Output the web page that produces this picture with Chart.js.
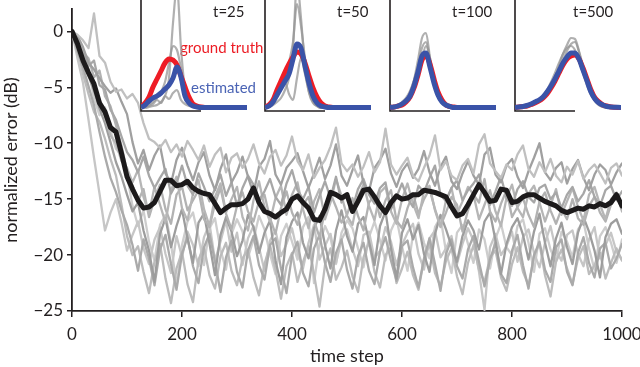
<!DOCTYPE html>
<html><head><meta charset="utf-8">
<script src="https://cdn.jsdelivr.net/npm/chart.js@4.4.0/dist/chart.umd.min.js"></script>
<style>
html,body{margin:0;padding:0;background:#fff;}
#wrap{position:relative;width:640px;height:367px;overflow:hidden;background:#fff;}
#wrap canvas{position:absolute;top:0;}
</style></head><body>
<div id="wrap">
<canvas id="main" width="640" height="367" style="left:0"></canvas>
<canvas id="in1" width="114" height="114"></canvas>
<canvas id="in2" width="114" height="114"></canvas>
<canvas id="in3" width="114" height="114"></canvas>
<canvas id="in4" width="114" height="114"></canvas>
</div>
<script>
// ---- main chart data ----
const timeSteps = [0,10,20,30,40,50,60,70,80,90,100,110,120,130,140,150,160,170,180,190,200,210,220,230,240,250,260,270,280,290,300,310,320,330,340,350,360,370,380,390,400,410,420,430,440,450,460,470,480,490,500,510,520,530,540,550,560,570,580,590,600,610,620,630,640,650,660,670,680,690,700,710,720,730,740,750,760,770,780,790,800,810,820,830,840,850,860,870,880,890,900,910,920,930,940,950,960,970,980,990,1000];
const xTicks = [0,200,400,600,800,1000];
const yTicks = [0,-5,-10,-15,-20,-25];

const meanError = [0,-1.1,-2.6,-3.7,-4.7,-6.4,-7.2,-8.6,-9.0,-10.9,-13.0,
-14.1,-15.1,-15.8,-15.7,-15.3,-14.3,-13.3,-13.3,-13.8,-13.7,
-13.4,-14.0,-14.3,-14.5,-14.6,-15.4,-16.2,-15.8,-15.5,-15.5,
-15.4,-15.0,-14.0,-15.3,-16.1,-16.3,-16.6,-16.2,-15.9,-15.0,
-14.7,-15.3,-15.8,-16.8,-16.9,-15.9,-14.4,-14.6,-14.9,-14.6,
-16.1,-15.2,-14.2,-14.1,-14.8,-15.6,-16.2,-15.3,-14.7,-15.0,
-14.9,-14.6,-14.6,-14.2,-14.3,-14.4,-14.6,-14.8,-15.7,-16.5,
-16.3,-15.5,-14.6,-13.7,-14.4,-15.2,-15.1,-14.1,-14.2,-15.3,
-15.2,-14.8,-14.6,-14.6,-14.9,-15.2,-15.4,-15.6,-16.0,-16.2,
-16.0,-15.8,-15.9,-15.6,-15.7,-15.4,-15.6,-15.3,-14.6,-15.6];

const run1 = [0,-0.3,-0.8,-1.5,1.6,-2.2,-2.8,-4.5,-5.4,-5.2,-6.0,
-5.6,-6.4,-8.2,-9.6,-9.9,-10.4,-9.7,-10.8,-10.1,-11.2,
-9.8,-10.6,-11.5,-10.2,-12.1,-11.0,-10.4,-12.6,-11.3,-10.9,
-12.2,-11.4,-10.1,-11.8,-12.7,-11.2,-10.6,-12.0,-11.1,-9.4,
-11.6,-12.4,-11.0,-13.1,-12.2,-11.5,-10.3,-8.6,-11.8,-12.5,
-11.9,-13.0,-12.1,-10.8,-12.6,-11.7,-8.7,-11.9,-12.8,-12.0,
-11.3,-12.9,-13.4,-12.2,-11.1,-9.3,-12.4,-11.6,-12.9,-13.3,
-12.0,-11.4,-12.7,-10.1,-9.2,-11.8,-12.5,-13.1,-11.9,-12.4,
-11.0,-10.2,-12.3,-13.0,-11.7,-12.6,-11.4,-12.9,-13.5,-12.1,
-12.8,-11.6,-13.2,-12.4,-11.9,-12.7,-13.6,-12.2,-11.8,-12.9];
const run2 = [0,-1.2,-2.0,-3.1,-2.6,-4.8,-5.2,-7.0,-7.9,-9.4,-10.8,
-11.5,-12.6,-11.2,-12.9,-14.0,-13.1,-12.3,-14.5,-13.6,-12.0,
-13.8,-14.6,-12.7,-13.9,-15.2,-14.1,-12.8,-14.7,-13.5,-15.6,
-14.0,-12.9,-13.7,-15.1,-14.3,-13.2,-14.8,-15.5,-13.6,-12.4,
-14.2,-15.0,-13.9,-16.2,-14.7,-13.4,-14.9,-13.0,-15.3,-14.5,
-15.8,-14.1,-13.2,-14.6,-15.4,-14.0,-13.5,-15.9,-14.8,-13.6,
-14.9,-15.7,-13.8,-14.4,-13.1,-12.0,-14.6,-15.2,-14.0,-13.3,
-15.1,-14.2,-13.6,-12.8,-14.7,-15.5,-14.3,-13.0,-14.9,-15.6,
-14.1,-13.4,-14.8,-15.3,-14.0,-13.7,-15.0,-14.4,-15.8,-14.6,
-13.9,-15.2,-14.5,-13.3,-14.8,-15.6,-14.2,-13.8,-15.1,-14.3];
const run3 = [0,-2.4,-4.6,-7.9,-11.3,-14.5,-17.8,-16.2,-15.0,-17.1,-19.6,
-18.2,-17.0,-19.4,-20.8,-18.6,-17.5,-19.9,-21.6,-18.3,-20.2,
-17.9,-19.1,-21.0,-18.4,-17.2,-20.5,-18.8,-16.9,-19.7,-18.0,
-20.9,-18.5,-17.4,-19.3,-21.4,-18.7,-17.8,-20.1,-19.0,-17.6,
-19.8,-21.2,-18.9,-17.3,-20.4,-19.2,-18.1,-20.7,-18.6,-17.7,
-19.5,-21.0,-18.2,-17.9,-20.3,-19.6,-17.5,-18.8,-20.9,-19.1,
-18.0,-17.2,-19.9,-21.3,-18.5,-17.8,-20.2,-19.4,-18.3,-20.8,
-19.0,-17.6,-18.7,-21.5,-24.9,-19.3,-18.1,-20.0,-19.2,-17.9,
-20.6,-18.4,-17.7,-19.8,-21.1,-18.9,-17.4,-19.6,-20.5,-18.2,
-17.8,-19.9,-21.0,-18.6,-17.5,-20.3,-19.1,-18.0,-19.7,-20.4];
const run4 = [0,-0.8,-2.9,-4.0,-5.3,-6.9,-8.2,-9.9,-11.7,-13.0,-14.6,
-16.1,-15.3,-17.8,-19.6,-22.4,-18.1,-16.7,-19.3,-17.4,-15.9,
-18.5,-20.7,-17.1,-16.3,-19.0,-21.8,-18.2,-16.6,-17.9,-20.1,
-18.7,-16.4,-17.5,-19.8,-18.0,-16.9,-20.5,-22.6,-18.4,-17.0,
-16.2,-18.9,-20.3,-17.6,-16.5,-19.1,-21.2,-17.8,-16.0,-18.3,
-19.7,-17.2,-16.6,-18.8,-20.9,-17.4,-16.1,-19.4,-22.1,-18.0,
-16.8,-18.6,-17.3,-19.9,-21.5,-18.1,-16.4,-17.7,-19.2,-20.6,
-18.3,-16.9,-17.8,-19.5,-17.0,-16.2,-18.7,-21.7,-19.0,-17.5,
-16.7,-18.2,-20.4,-17.9,-16.3,-18.9,-21.0,-18.5,-17.1,-19.3,
-20.8,-18.0,-16.6,-17.9,-19.6,-22.0,-18.4,-17.2,-16.8,-18.1];
const run5 = [0,-1.5,-3.8,-5.6,-7.2,-8.1,-9.6,-11.4,-12.9,-15.5,-18.3,
-20.0,-19.2,-21.5,-23.4,-20.6,-19.0,-22.1,-24.3,-21.2,-19.7,
-22.6,-24.2,-20.4,-19.3,-21.8,-23.0,-20.1,-18.9,-21.4,-22.7,
-20.3,-19.5,-22.0,-23.6,-20.8,-19.1,-21.3,-23.9,-21.0,-19.8,
-22.4,-20.6,-19.2,-21.7,-24.6,-20.9,-19.4,-22.2,-21.1,-19.6,
-21.9,-23.3,-20.2,-18.8,-21.5,-22.9,-20.0,-19.3,-22.5,-21.2,
-19.7,-21.8,-23.1,-20.4,-19.0,-21.6,-22.8,-20.5,-19.4,-21.9,
-23.5,-20.7,-19.1,-21.3,-22.4,-20.2,-19.6,-22.0,-23.2,-20.8,
-19.3,-21.5,-22.7,-20.1,-19.0,-21.8,-23.7,-20.6,-19.5,-21.2,
-22.6,-20.3,-19.2,-21.7,-20.9,-19.8,-22.1,-20.7,-19.4,-20.5];
const run6 = [0,-0.6,-1.9,-2.4,-4.1,-3.5,-5.8,-6.7,-8.4,-10.2,-12.5,
-13.8,-15.2,-14.1,-16.6,-15.0,-13.7,-15.9,-17.2,-14.6,-13.9,
-16.0,-15.1,-14.2,-16.8,-17.5,-15.4,-14.0,-16.3,-17.7,-15.6,
-14.4,-16.1,-17.0,-15.2,-14.6,-16.7,-18.1,-15.8,-14.3,-16.2,
-17.3,-15.5,-14.8,-16.9,-18.4,-16.0,-14.5,-15.7,-17.1,-16.4,
-14.9,-16.5,-17.8,-15.3,-14.7,-16.6,-15.1,-14.2,-16.9,-17.6,
-15.8,-14.5,-16.3,-15.0,-14.1,-15.9,-17.4,-16.2,-14.8,-15.5,
-17.9,-16.0,-14.6,-15.3,-13.2,-16.1,-17.0,-15.4,-14.2,-16.6,
-15.7,-14.9,-16.4,-17.5,-15.2,-14.4,-16.0,-17.2,-15.9,-16.8,
-15.0,-16.7,-17.3,-15.6,-14.8,-16.2,-17.0,-15.5,-14.7,-15.9];
const run7 = [0,-1.0,-1.8,-3.3,-6.0,-7.5,-6.8,-8.9,-10.5,-11.1,-12.8,
-15.6,-17.4,-16.0,-18.8,-20.5,-17.3,-16.4,-18.9,-22.8,-19.1,
-17.0,-16.2,-18.4,-20.9,-17.6,-16.7,-19.5,-21.3,-18.1,-16.8,
-17.9,-20.2,-18.6,-16.5,-17.7,-19.9,-21.7,-18.3,-17.2,-18.8,
-20.4,-17.5,-16.6,-22.5,-19.0,-17.4,-18.5,-20.8,-18.0,-16.9,
-17.6,-19.4,-21.1,-18.4,-17.0,-18.7,-20.5,-17.8,-16.7,-19.2,
-21.4,-18.2,-17.1,-18.9,-20.3,-17.5,-16.6,-19.7,-21.6,-18.0,
-17.3,-19.0,-20.7,-17.7,-18.6,-21.2,-18.5,-17.2,-19.3,-20.0,
-17.4,-16.8,-18.9,-21.5,-18.1,-17.6,-19.5,-20.6,-17.9,-18.8,
-20.2,-17.7,-17.0,-19.4,-21.3,-18.3,-17.5,-18.9,-20.7,-18.6];
const run8 = [0,-0.4,-1.4,-2.8,-3.4,-4.2,-4.9,-5.5,-5.1,-6.3,-7.4,
-9.9,-11.8,-10.6,-12.4,-11.1,-10.2,-12.7,-13.6,-11.5,-10.4,
-12.0,-13.3,-11.7,-10.8,-12.9,-14.2,-12.3,-11.0,-13.5,-12.6,
-11.2,-13.0,-14.5,-12.1,-11.4,-9.8,-12.8,-13.7,-12.2,-11.6,
-10.9,-12.5,-14.0,-12.7,-11.3,-13.2,-12.0,-10.1,-12.9,-13.8,
-12.4,-11.1,-13.6,-14.3,-12.2,-11.5,-10.5,-12.7,-13.9,-12.5,
-11.8,-13.1,-12.3,-10.7,-12.6,-13.8,-12.1,-11.2,-13.4,-14.1,
-12.7,-11.6,-12.9,-13.7,-11.0,-10.4,-12.8,-13.5,-12.0,-11.4,
-13.0,-14.0,-12.5,-11.3,-10.0,-12.6,-13.3,-12.2,-11.7,-13.6,
-12.3,-11.5,-13.1,-14.2,-12.8,-11.9,-12.4,-13.7,-12.6,-11.8];
const run9 = [0,-0.9,-2.2,-3.6,-5.0,-6.1,-7.7,-9.3,-10.0,-11.6,-12.2,
-13.5,-12.4,-14.8,-16.3,-13.9,-15.5,-17.1,-14.2,-13.0,-15.8,
-16.9,-14.5,-13.3,-15.9,-17.4,-14.8,-13.6,-16.2,-15.0,-13.9,
-16.6,-17.8,-15.1,-13.4,-15.7,-17.0,-14.9,-13.8,-16.4,-14.6,
-13.5,-15.9,-17.6,-15.2,-14.1,-16.8,-15.3,-13.2,-14.7,-16.5,
-17.3,-14.8,-13.7,-15.6,-16.9,-14.4,-13.9,-16.1,-17.2,-15.0,
-13.6,-15.4,-16.7,-14.3,-13.8,-16.0,-17.5,-15.1,-14.0,-16.3,
-15.2,-13.9,-14.6,-16.8,-15.5,-14.2,-16.1,-17.4,-14.9,-13.7,
-15.8,-16.6,-14.5,-13.8,-15.3,-17.0,-15.6,-14.1,-16.4,-15.2,
-14.0,-15.7,-16.9,-14.6,-13.9,-15.5,-16.8,-15.0,-14.4,-16.1];
const run10 = [0,-1.8,-3.2,-4.9,-6.6,-9.0,-11.2,-13.1,-14.4,-16.0,-17.3,
-19.1,-21.4,-18.6,-20.3,-22.7,-19.5,-18.2,-20.8,-23.1,-19.9,
-18.4,-21.0,-22.5,-19.3,-18.1,-20.6,-23.3,-20.2,-18.7,-21.5,
-22.9,-19.6,-18.3,-20.9,-22.2,-19.1,-18.5,-21.2,-23.4,-20.0,
-18.8,-21.6,-22.8,-19.4,-18.2,-20.7,-22.4,-19.8,-18.6,-21.3,
-23.0,-20.1,-18.9,-21.4,-22.6,-19.7,-18.4,-20.5,-22.3,-19.2,
-18.7,-21.1,-22.9,-20.3,-18.5,-20.8,-23.2,-19.9,-18.6,-21.0,
-22.1,-19.5,-18.3,-20.6,-22.8,-20.4,-18.9,-21.7,-22.5,-19.6,
-18.2,-20.9,-23.0,-20.0,-18.8,-21.3,-22.4,-19.3,-18.6,-21.5,
-22.7,-19.8,-18.4,-20.7,-22.0,-19.4,-18.9,-21.2,-20.3,-19.0];

// ---- inset data (density curves) ----
const insetLabels = ['t=25','t=50','t=100','t=500'];
const insetGrid = [0,4,8,12,16,20,24,28,32,36,40,44,48,52,56,60,64,68,72,76,80,84,88,92,96,106];

const truth25 = [1,5,11,21,29,37,45,49,48,43,32,21,11,4,2,1,0.5,0.5,0.5,0.5,0.5,0.5,0.5,0.5,0.5,0.5];
const est25   = [0.5,3,7,10,12,15,19,23,30,41,31,12,5,2,1,0.5,0.5,0.5,0.5,0.5,0.5,0.5,0.5,0.5,0.5,0.5];
const samp25a = [0,0,1,2,3,6,12,30,85,120,60,18,5,2,0,0,0,0,0,0,0,0,0,0,0,0];
const samp25b = [0,1,3,6,10,16,26,45,62,58,40,20,8,3,1,0,0,0,0,0,0,0,0,0,0,0];
const samp25c = [0,1,2,4,8,5,12,9,15,18,8,4,2,1,0,0,0,0,0,0,0,0,0,0,0,0];

const truth50 = [1,3,8,18,27,36,44,51,56,54,45,32,20,11,5,2,1,0.5,0.5,0.5,0.5,0.5,0.5,0.5,0.5,0.5];
const est50   = [0.5,2,6,13,20,27,34,49,64,60,42,25,12,5,2,1,0.5,0.5,0.5,0.5,0.5,0.5,0.5,0.5,0.5,0.5];
const samp50a = [0,1,3,6,10,18,30,60,125,90,40,15,5,2,0,0,0,0,0,0,0,0,0,0,0,0];
const samp50b = [0,2,6,14,24,34,46,66,104,82,50,24,9,3,1,0,0,0,0,0,0,0,0,0,0,0];
const samp50c = [0,1,5,12,20,26,14,8,30,50,34,16,6,2,0,0,0,0,0,0,0,0,0,0,0,0];

const truth100 = [0.5,1,2,3,6,11,20,33,48,52,44,29,16,8,3,1.5,1,0.5,0.5,0.5,0.5,0.5,0.5,0.5,0.5,0.5];
const est100   = [0.5,1,2,4,7,12,22,36,52,55,41,25,13,6,3,1.5,0.5,0.5,0.5,0.5,0.5,0.5,0.5,0.5,0.5,0.5];
const samp100a = [0,1,2,4,8,15,28,48,70,75,50,26,12,5,2,1,0,0,0,0,0,0,0,0,0,0];
const samp100b = [0,1,3,6,10,17,28,42,60,66,48,27,12,5,2,0,0,0,0,0,0,0,0,0,0,0];
const samp100c = [0,1,2,4,8,14,25,38,50,62,50,30,14,6,2,0,0,0,0,0,0,0,0,0,0,0];

const truth500 = [0.5,1,1.5,2,3.5,5,7,10,14,20,27,35,43,49,52,53,49,40,29,18,10,6,3,2,1,0.5];
const est500   = [0.5,1,1.5,2.5,4,6,8,11,16,22,29,37,45,51,55,55,49,38,27,16,9,5,3,1.5,1,0.5];
const samp500a = [0,0,1,2,3,5,7,10,16,23,31,42,54,63,70,69,57,42,28,16,8,4,2,1,0,0];
const samp500b = [0,0,1,2,3,5,8,12,18,26,35,45,54,60,62,58,48,35,23,13,7,3,1,0,0,0];
const samp500c = [0,0,1,1,2,4,6,9,14,20,28,38,48,57,64,66,56,40,26,15,7,3,1,0,0,0];

// ---- build main chart ----
const toXY = (xs, ys) => ys.map((v, i) => ({x: xs[i], y: v}));
// Chart.js paints dataset 0 on top, so the mean goes first
const grayRuns = [
  {d: run1, c: '#c0c0c0'}, {d: run8, c: '#a0a0a0'}, {d: run2, c: '#a7a7a7'},
  {d: run9, c: '#b6b6b6'}, {d: run6, c: '#b2b2b2'}, {d: run4, c: '#9d9d9d'},
  {d: run10, c: '#aaaaaa'}, {d: run5, c: '#bcbcbc'}, {d: run3, c: '#c6c6c6'},
  {d: run7, c: '#cdcdcd'}
];
const mainSets = [{data: toXY(timeSteps, meanError), borderColor: '#1c1a1b', borderWidth: 5}];
grayRuns.forEach(r => mainSets.push({data: toXY(timeSteps, r.d), borderColor: r.c, borderWidth: 2.3}));

const FONT = 'Lato, "Open Sans", sans-serif';
const INK = '#231f20';

const annot = {
  id: 'annot',
  afterDraw(chart) {
    const ctx = chart.ctx;
    ctx.save();
    ctx.textBaseline = 'alphabetic';
    ctx.textAlign = 'left';
    ctx.font = '15px ' + FONT;
    ctx.fillStyle = INK;
    const lx = [213, 337, 452, 573];
    insetLabels.forEach((t, i) => ctx.fillText(t, lx[i], 17));
    ctx.fillStyle = '#ec1c24';
    ctx.fillText('ground truth', 180, 53);
    ctx.fillStyle = '#4b64b5';
    ctx.fillText('estimated', 191, 93);
    ctx.restore();
  }
};

new Chart(document.getElementById('main'), {
  type: 'line',
  data: {datasets: mainSets},
  plugins: [annot],
  options: {
    responsive: false, animation: false,
    layout: {padding: {top: 9, right: 18, left: 0, bottom: 0}},
    plugins: {legend: {display: false}, tooltip: {enabled: false}},
    elements: {point: {radius: 0}, line: {tension: 0, borderJoinStyle: 'round', borderCapStyle: 'round', fill: false}},
    scales: {
      x: {
        type: 'linear', min: 0, max: 1000,
        afterBuildTicks(s) { s.ticks = xTicks.map(v => ({value: v})); },
        ticks: {font: {family: FONT, size: 17}, color: INK, padding: 7, maxRotation: 0, autoSkip: false,
                callback: v => String(v)},
        grid: {drawOnChartArea: false, drawTicks: true, tickLength: 6, color: INK, lineWidth: 1.5},
        border: {display: true, color: INK, width: 1.8},
        title: {display: true, text: 'time step', font: {family: FONT, size: 18}, color: INK, padding: {top: 0, bottom: 0}},
        afterFit(s) { s.height = 56; s.paddingLeft = 0; s.paddingRight = 0; }
      },
      y: {
        type: 'linear', min: -25, max: 2,
        afterBuildTicks(s) { s.ticks = yTicks.slice().reverse().map(v => ({value: v})); },
        ticks: {font: {family: FONT, size: 17}, color: INK, padding: 4, autoSkip: false,
                callback: v => v === 0 ? '0' : '\u2212' + Math.abs(v)},
        grid: {drawOnChartArea: false, drawTicks: true, tickLength: 5, color: INK, lineWidth: 1.5},
        border: {display: true, color: INK, width: 1.8},
        title: {display: true, text: 'normalized error (dB)', font: {family: FONT, size: 18}, color: INK, padding: {top: 0, bottom: 0}},
        afterFit(s) { s.width = 72; s.paddingTop = 0; s.paddingBottom = 0; }
      }
    }
  }
});

// ---- insets ----
const insetAxes = {
  id: 'insetAxes',
  beforeDatasetsDraw(chart) {
    const {ctx, chartArea, scales} = chart;
    const yb = scales.y.getPixelForValue(-3);
    ctx.save();
    ctx.strokeStyle = INK;
    ctx.lineWidth = 1.6;
    ctx.beginPath();
    ctx.moveTo(chartArea.left, 0);
    ctx.lineTo(chartArea.left, yb);
    ctx.lineTo(scales.x.getPixelForValue(60), yb);
    ctx.stroke();
    ctx.restore();
  }
};
const insetDefs = [
  {id: 'in1', left: 141, truth: truth25, est: est25, samp: [samp25a, samp25b, samp25c]},
  {id: 'in2', left: 265, truth: truth50, est: est50, samp: [samp50a, samp50b, samp50c]},
  {id: 'in3', left: 390, truth: truth100, est: est100, samp: [samp100a, samp100b, samp100c]},
  {id: 'in4', left: 515, truth: truth500, est: est500, samp: [samp500a, samp500b, samp500c]}
];
insetDefs.forEach(def => {
  const cv = document.getElementById(def.id);
  cv.style.left = (def.left - 4) + 'px';
  const sets = [
    {data: toXY(insetGrid, def.est), borderColor: '#3a53a8', borderWidth: 5},
    {data: toXY(insetGrid, def.truth), borderColor: '#ee1c25', borderWidth: 5}
  ];
  def.samp.forEach(s => sets.push({data: toXY(insetGrid, s), borderColor: 'rgba(150,150,150,0.75)', borderWidth: 2.2}));
  new Chart(cv, {
    type: 'line',
    data: {datasets: sets},
    plugins: [insetAxes],
    options: {
      responsive: false, animation: false,
      layout: {padding: {left: 4, right: 4, top: 0, bottom: 2}},
      plugins: {legend: {display: false}, tooltip: {enabled: false}},
      elements: {point: {radius: 0}, line: {cubicInterpolationMode: 'monotone', borderJoinStyle: 'round', borderCapStyle: 'butt'}},
      scales: {
        x: {type: 'linear', display: false, min: 0, max: 106},
        y: {type: 'linear', display: false, min: -4, max: 108}
      }
    }
  });
});
</script>
</body></html>
